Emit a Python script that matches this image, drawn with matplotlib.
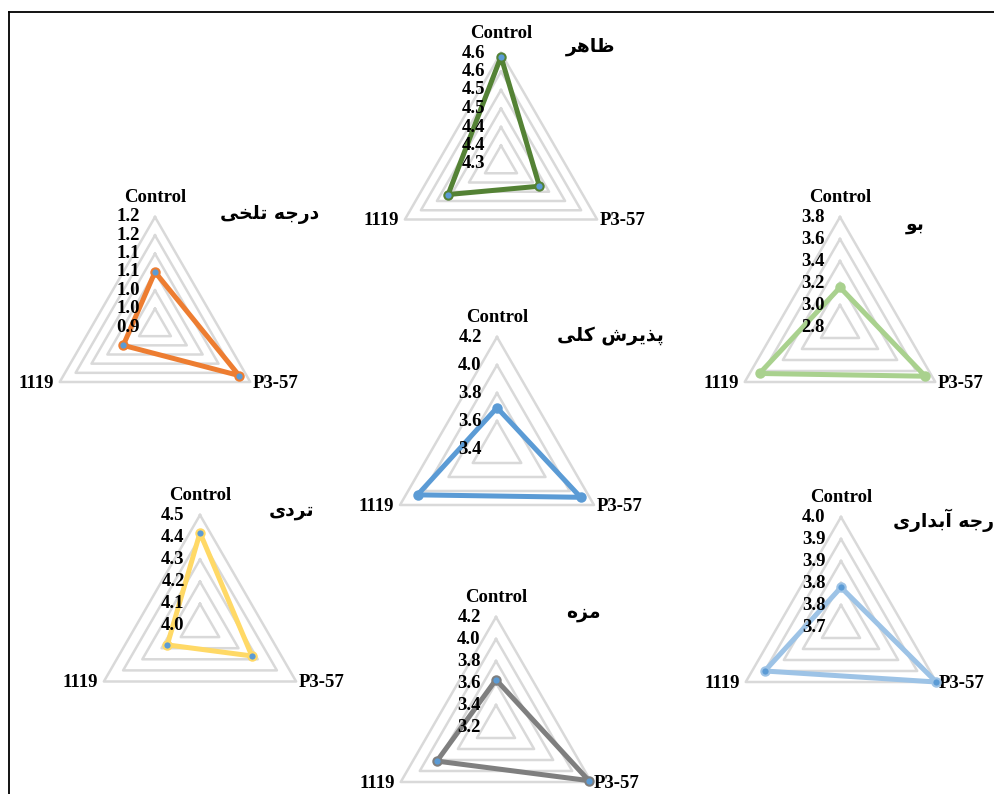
import numpy as np
import matplotlib
matplotlib.use("Agg")
import matplotlib.pyplot as plt
from matplotlib.lines import Line2D

W, H = 995, 794

categories = ["Control", "P3-57", "1119"]

# Persian titles, written in shaped presentation forms (visual order)
title_appearance = "\uFEAE\uFEEB\uFE8E\uFEC7"                                   # ظاهر
title_bitterness = "\uFEF0\uFEA8\uFEE0\uFE97 \uFEEA\uFE9F\uFEAD\uFEA9"            # درجه تلخی
title_odor = "\uFEEE\uFE91"                                                     # بو
title_overall = "\uFEF0\uFEE0\uFEDB \uFEB5\uFEAE\uFEF3\uFEAC\uFB58"               # پذیرش کلی
title_crispness = "\uFEEF\uFEA9\uFEAE\uFE97"                                     # تردی
title_juiciness = "\uFEEF\uFEAD\uFE8D\uFEAA\uFE91\uFE81 \uFEEA\uFE9F\uFEAD\uFEA9"  # درجه آبداری
title_taste = "\uFEE9\uFEB0\uFEE3"                                              # مزه

# scores for Control, P3-57, 1119
appearance = [4.59, 4.42, 4.465]
bitterness = [1.05, 1.165, 1.00]
odor = [3.16, 3.695, 3.645]
overall = [3.695, 4.09, 4.055]
crispness = [4.42, 4.27, 4.17]
juiciness = [3.79, 3.95, 3.90]
taste = [3.63, 4.175, 3.82]

# radial axis: (min, max, major unit) and the labels as printed
axis_appearance = (4.30, 4.60, 0.05)
ticks_appearance = ["4.3", "4.4", "4.4", "4.5", "4.5", "4.6", "4.6"]
axis_bitterness = (0.90, 1.20, 0.05)
ticks_bitterness = ["0.9", "1.0", "1.0", "1.1", "1.1", "1.2", "1.2"]
axis_odor = (2.8, 3.8, 0.2)
ticks_odor = ["2.8", "3.0", "3.2", "3.4", "3.6", "3.8"]
axis_overall = (3.4, 4.2, 0.2)
ticks_overall = ["3.4", "3.6", "3.8", "4.0", "4.2"]
axis_crispness = (4.0, 4.5, 0.1)
ticks_crispness = ["4.0", "4.1", "4.2", "4.3", "4.4", "4.5"]
axis_juiciness = (3.70, 3.95, 0.05)
ticks_juiciness = ["3.7", "3.8", "3.8", "3.9", "3.9", "4.0"]
axis_taste = (3.2, 4.2, 0.2)
ticks_taste = ["3.2", "3.4", "3.6", "3.8", "4.0", "4.2"]

SERIF = "Liberation Serif"
ARABIC = ["DejaVu Sans"]
GRID = "#D9D9D9"
MARKER = "#5B9BD5"

# (values, axis, ticks, title, colour, marker face, centre px, radius px, title px)
panels = [
    (appearance, axis_appearance, ticks_appearance, title_appearance,
     "#548235", MARKER, (501, 164), 111, (591, 47)),
    (bitterness, axis_bitterness, ticks_bitterness, title_bitterness,
     "#ED7D31", MARKER, (155, 327), 110, (270, 214)),
    (odor, axis_odor, ticks_odor, title_odor,
     "#A9D18E", "#A9D18E", (840, 327), 110, (915, 224)),
    (overall, axis_overall, ticks_overall, title_overall,
     "#5B9BD5", "#5B9BD5", (497, 449), 112, (610, 336)),
    (crispness, axis_crispness, ticks_crispness, title_crispness,
     "#FFD966", MARKER, (200, 626), 111, (292, 510)),
    (juiciness, axis_juiciness, ticks_juiciness, title_juiciness,
     "#9DC3E6", MARKER, (841, 627), 110, (948, 520)),
    (taste, axis_taste, ticks_taste, title_taste,
     "#7F7F7F", MARKER, (496, 727), 110, (583, 612)),
]

fig = plt.figure(figsize=(W / 100, H / 100), dpi=100)
fig.patch.set_facecolor("white")

theta = np.array([0, 2 * np.pi / 3, 4 * np.pi / 3])
theta_closed = np.append(theta, 0)

for vals, (vmin, vmax, step), tlabels, title, color, face, (cx, cy), R, (tx, ty) in panels:
    ax = fig.add_axes([(cx - R) / W, (H - cy - R) / H, 2 * R / W, 2 * R / H],
                      projection="polar")
    ax.set_theta_offset(np.pi / 2)
    ax.set_theta_direction(-1)
    ax.set_ylim(vmin, vmax)
    ax.set_xticks([])
    ax.set_yticks([])
    ax.grid(False)
    ax.spines["polar"].set_visible(False)
    ax.patch.set_alpha(0)

    levels = vmin + step * np.arange(1, len(tlabels))
    for lv in levels:
        ax.plot(theta_closed, [lv] * 4, color=GRID, lw=1.8, clip_on=False,
                zorder=1)

    v = np.append(vals, vals[0])
    ax.plot(theta_closed, v, color=color, lw=3.6, clip_on=False, zorder=3,
            solid_joinstyle="round")
    ax.plot(theta, vals, "o", ms=6, mfc=face, mec=color, mew=1.5,
            clip_on=False, zorder=4)

    all_levels = np.append(vmin, levels)
    for lv, lab in zip(all_levels, tlabels):
        ax.annotate(lab, xy=(0, lv), xytext=(-11, 0), textcoords="offset points",
                    ha="right", va="center", fontsize=13.5, fontweight="bold",
                    family=SERIF, annotation_clip=False)

    ax.annotate(categories[0], xy=(0, vmax), xytext=(0, 14),
                textcoords="offset points", ha="center", va="center",
                fontsize=13.5, fontweight="bold", family=SERIF,
                annotation_clip=False)
    ax.annotate(categories[1], xy=(theta[1], vmax), xytext=(2, -1),
                textcoords="offset points", ha="left", va="center",
                fontsize=13.5, fontweight="bold", family=SERIF,
                annotation_clip=False)
    ax.annotate(categories[2], xy=(theta[2], vmax), xytext=(-4, -1),
                textcoords="offset points", ha="right", va="center",
                fontsize=13.5, fontweight="bold", family=SERIF,
                annotation_clip=False)

    fig.text(tx / W, 1 - ty / H, title, ha="center", va="center",
             fontsize=13.5, fontweight="bold", family=ARABIC)

# frame along the top and left edges
fig.add_artist(Line2D([8.7 / W, 1.0], [1 - 11.8 / H, 1 - 11.8 / H],
                      transform=fig.transFigure, color="black", lw=1.3))
fig.add_artist(Line2D([8.7 / W, 8.7 / W], [0.0, 1 - 11.8 / H],
                      transform=fig.transFigure, color="black", lw=1.3))

fig.savefig("out.png", dpi=100)
